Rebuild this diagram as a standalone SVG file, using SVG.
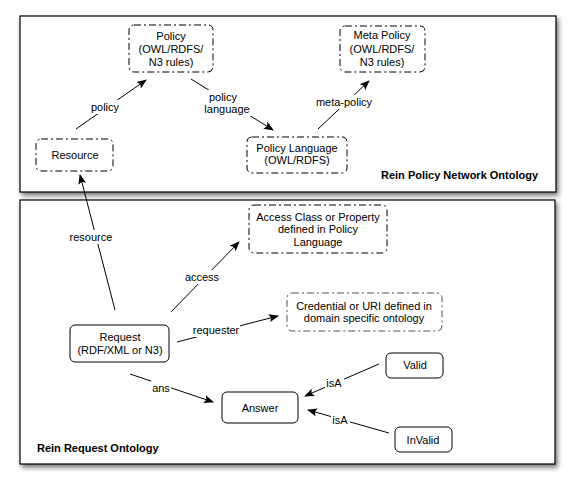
<svg xmlns="http://www.w3.org/2000/svg" width="575" height="488" viewBox="0 0 575 488">
<style>
text{font-family:"Liberation Sans",Arial,sans-serif;font-size:11px;fill:#000;text-anchor:middle}
.title{font-weight:bold;text-anchor:start}
.panel{fill:#fff;stroke:#000;stroke-width:1.2}
.dd{fill:#fff;stroke:#000;stroke-width:1;stroke-dasharray:7,3,2,3}
.solid{fill:#fff;stroke:#000;stroke-width:1}
.edge{stroke:#000;stroke-width:1;fill:none;marker-end:url(#arr)}
.lbg{fill:#fff}
</style>
<defs>
<marker id="arr" viewBox="0 0 10 10" refX="9" refY="5" markerWidth="10" markerHeight="10" markerUnits="userSpaceOnUse" orient="auto">
<path d="M0,1 L10,5 L0,9 L2,5 z" fill="#000"/>
</marker>
<filter id="sh" x="-5%" y="-5%" width="115%" height="120%">
<feDropShadow dx="2" dy="3" stdDeviation="2.5" flood-color="#000" flood-opacity="0.55"/>
</filter>
</defs>
<rect width="575" height="488" fill="#fff"/>
<g id="panel-top"><rect class="panel" x="20" y="16" width="536" height="176" filter="url(#sh)"/>
<text class="title" x="381" y="179">Rein Policy Network Ontology</text></g>
<g id="panel-bottom"><rect class="panel" x="20" y="200" width="535" height="264" filter="url(#sh)"/>
<text class="title" x="37" y="452">Rein Request Ontology</text></g>
<g id="connectors">
<line class="edge" x1="76" y1="129" x2="146" y2="80"/>
<rect class="lbg" x="91" y="100" width="29" height="14"/><text x="105" y="111">policy</text>
<line class="edge" x1="191" y1="79" x2="273" y2="130"/>
<rect class="lbg" x="203" y="90" width="48" height="26"/><text x="223" y="101">policy</text><text x="227" y="113">language</text>
<line class="edge" x1="318" y1="129" x2="369" y2="81"/>
<rect class="lbg" x="315" y="95" width="59" height="14"/><text x="344" y="106">meta-policy</text>
<line class="edge" x1="115" y1="310" x2="80" y2="175"/>
<rect class="lbg" x="69" y="230" width="44" height="14"/><text x="91" y="241">resource</text>
<line class="edge" x1="171" y1="312" x2="239" y2="242"/>
<rect class="lbg" x="184" y="270" width="35" height="14"/><text x="202" y="281">access</text>
<line class="edge" x1="177" y1="342" x2="278" y2="316"/>
<rect class="lbg" x="192" y="323" width="48" height="14"/><text x="216" y="334">requester</text>
<line class="edge" x1="130" y1="374" x2="213" y2="402"/>
<rect class="lbg" x="151" y="381" width="20" height="14"/><text x="161" y="392">ans</text>
<line class="edge" x1="379" y1="364" x2="305" y2="396"/>
<rect class="lbg" x="325" y="376" width="19" height="14"/><text x="334" y="387">isA</text>
<line class="edge" x1="389" y1="433" x2="308" y2="410"/>
<rect class="lbg" x="331" y="413" width="19" height="14"/><text x="340" y="424">isA</text>
</g>
<g id="policy"><rect class="dd" x="129" y="25" width="84" height="47" rx="5"/>
<text x="171" y="40">Policy</text><text x="171" y="53">(OWL/RDFS/</text><text x="171" y="66">N3 rules)</text></g>
<g id="meta-policy"><rect class="dd" x="340" y="26" width="85" height="46" rx="5"/>
<text x="382" y="39">Meta Policy</text><text x="382" y="53">(OWL/RDFS/</text><text x="382" y="66">N3 rules)</text></g>
<g id="resource"><rect class="dd" x="36" y="139" width="77" height="32" rx="5"/>
<text x="75" y="159">Resource</text></g>
<g id="policy-language"><rect class="dd" x="247" y="137" width="100" height="36" rx="5"/>
<text x="297" y="152">Policy Language</text><text x="297" y="164">(OWL/RDFS)</text></g>
<g id="access-class"><rect class="dd" x="249" y="205" width="138" height="48" rx="5"/>
<text x="318" y="221">Access Class or Property</text><text x="318" y="233">defined in Policy</text><text x="318" y="246">Language</text></g>
<g id="credential"><rect class="dd" x="287" y="293" width="155" height="38" rx="5" style="stroke:#555"/>
<text x="364" y="310">Credential or URI defined in</text><text x="364" y="322">domain specific ontology</text></g>
<g id="request"><rect class="solid" x="70" y="325" width="99" height="37" rx="5"/>
<text x="120" y="341">Request</text><text x="120" y="354">(RDF/XML or N3)</text></g>
<g id="answer"><rect class="solid" x="222" y="392" width="76" height="31" rx="5"/>
<text x="260" y="412">Answer</text></g>
<g id="valid"><rect class="solid" x="386" y="353" width="57" height="25" rx="5"/>
<text x="415" y="369">Valid</text></g>
<g id="invalid"><rect class="solid" x="395" y="427" width="57" height="25" rx="5"/>
<text x="423" y="444">InValid</text></g>
</svg>
